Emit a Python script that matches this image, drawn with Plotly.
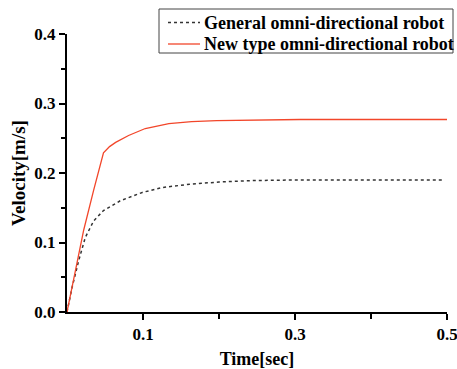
import plotly.graph_objects as go

# Data
general_t = [0, 0.0066, 0.0154, 0.024, 0.035, 0.048, 0.070, 0.099, 0.125, 0.162, 0.200, 0.241, 0.300, 0.400, 0.496]
general_v = [0, 0.035, 0.074, 0.107, 0.131, 0.146, 0.160, 0.172, 0.179, 0.184, 0.187, 0.189, 0.190, 0.190, 0.190]

newtype_t = [0, 0.011, 0.022, 0.035, 0.048, 0.056, 0.064, 0.081, 0.103, 0.134, 0.164, 0.197, 0.250, 0.307, 0.400, 0.500]
newtype_v = [0, 0.058, 0.118, 0.175, 0.229, 0.238, 0.244, 0.254, 0.264, 0.271, 0.274, 0.2755, 0.2765, 0.277, 0.277, 0.277]

series_names = ["General omni-directional robot", "New type omni-directional robot"]
series_colors = ["#333333", "#f2462a"]
series_dash = ["dot", "solid"]
series_width = [1.5, 1.3]

x_tickvals = [0.1, 0.3, 0.5]
x_ticktext = ["0.1", "0.3", "0.5"]
y_tickvals = [0.0, 0.1, 0.2, 0.3, 0.4]
y_ticktext = ["0.0", "0.1", "0.2", "0.3", "0.4"]

FONT = "Liberation Serif, Times New Roman, serif"

fig = go.Figure()
for t, v, name, c, d, w in zip([general_t, newtype_t], [general_v, newtype_v],
                               series_names, series_colors, series_dash, series_width):
    fig.add_trace(go.Scatter(x=t, y=v, mode="lines", name=name,
                             line=dict(color=c, width=w, dash=d)))

W, H = 457, 369
L, R, T, B = 67, 10, 34, 57
pw, ph = W - L - R, H - T - B


def px(xp):
    return (xp - L) / pw


def py(yp):
    return (H - B - yp) / ph


# legend drawn as a framed box in paper coordinates
box = dict(x0=159, y0=9, x1=453, y1=53)
rows_y = [22.5, 44]
shapes = [dict(type="rect", xref="paper", yref="paper",
               x0=px(box["x0"]), x1=px(box["x1"]), y0=py(box["y1"]), y1=py(box["y0"]),
               line=dict(color="#444444", width=1), fillcolor="white", layer="above")]
annotations = []
for ry, name, c, d, w in zip(rows_y, series_names, series_colors, series_dash, series_width):
    shapes.append(dict(type="line", xref="paper", yref="paper",
                       x0=px(168), x1=px(200), y0=py(ry), y1=py(ry),
                       line=dict(color=c, width=w, dash=d), layer="above"))
    annotations.append(dict(xref="paper", yref="paper", x=px(202), y=py(ry),
                            xanchor="left", yanchor="middle", showarrow=False,
                            text=name, font=dict(family=FONT, size=18, color="black", weight="bold")))

fig.update_layout(
    width=W, height=H,
    margin=dict(l=L, r=R, t=T, b=B, autoexpand=False),
    paper_bgcolor="white", plot_bgcolor="white",
    font=dict(family=FONT, size=17, color="black", weight="bold"),
    showlegend=False,
    shapes=shapes,
    annotations=annotations,
    xaxis=dict(
        range=[0, 0.5], showgrid=False, zeroline=False,
        showline=True, linecolor="black", linewidth=2,
        ticks="outside", ticklen=6, tickwidth=2, tickcolor="black",
        tickvals=x_tickvals, ticktext=x_ticktext, ticklabeloverflow="allow",
        minor=dict(tickvals=[0.2, 0.4], ticks="outside", ticklen=5, tickwidth=2, tickcolor="black"),
        tickfont=dict(family=FONT, size=17, weight="bold"),
        title=dict(text="Time[sec]", font=dict(family=FONT, size=18, weight="bold"), standoff=10),
    ),
    yaxis=dict(
        range=[0, 0.4], showgrid=False, zeroline=False,
        showline=True, linecolor="black", linewidth=2,
        ticks="outside", ticklen=6, tickwidth=2, tickcolor="black",
        tickvals=y_tickvals, ticktext=y_ticktext, ticklabeloverflow="allow",
        minor=dict(tickvals=[0.05, 0.15, 0.25, 0.35], ticks="outside", ticklen=4, tickwidth=2, tickcolor="black"),
        tickfont=dict(family=FONT, size=17, weight="bold"),
        title=dict(text="Velocity[m/s]", font=dict(family=FONT, size=19, weight="bold"), standoff=4),
    ),
)

fig.write_html("out.html", config={"displayModeBar": False},
               post_script="document.body.style.margin='0';")
